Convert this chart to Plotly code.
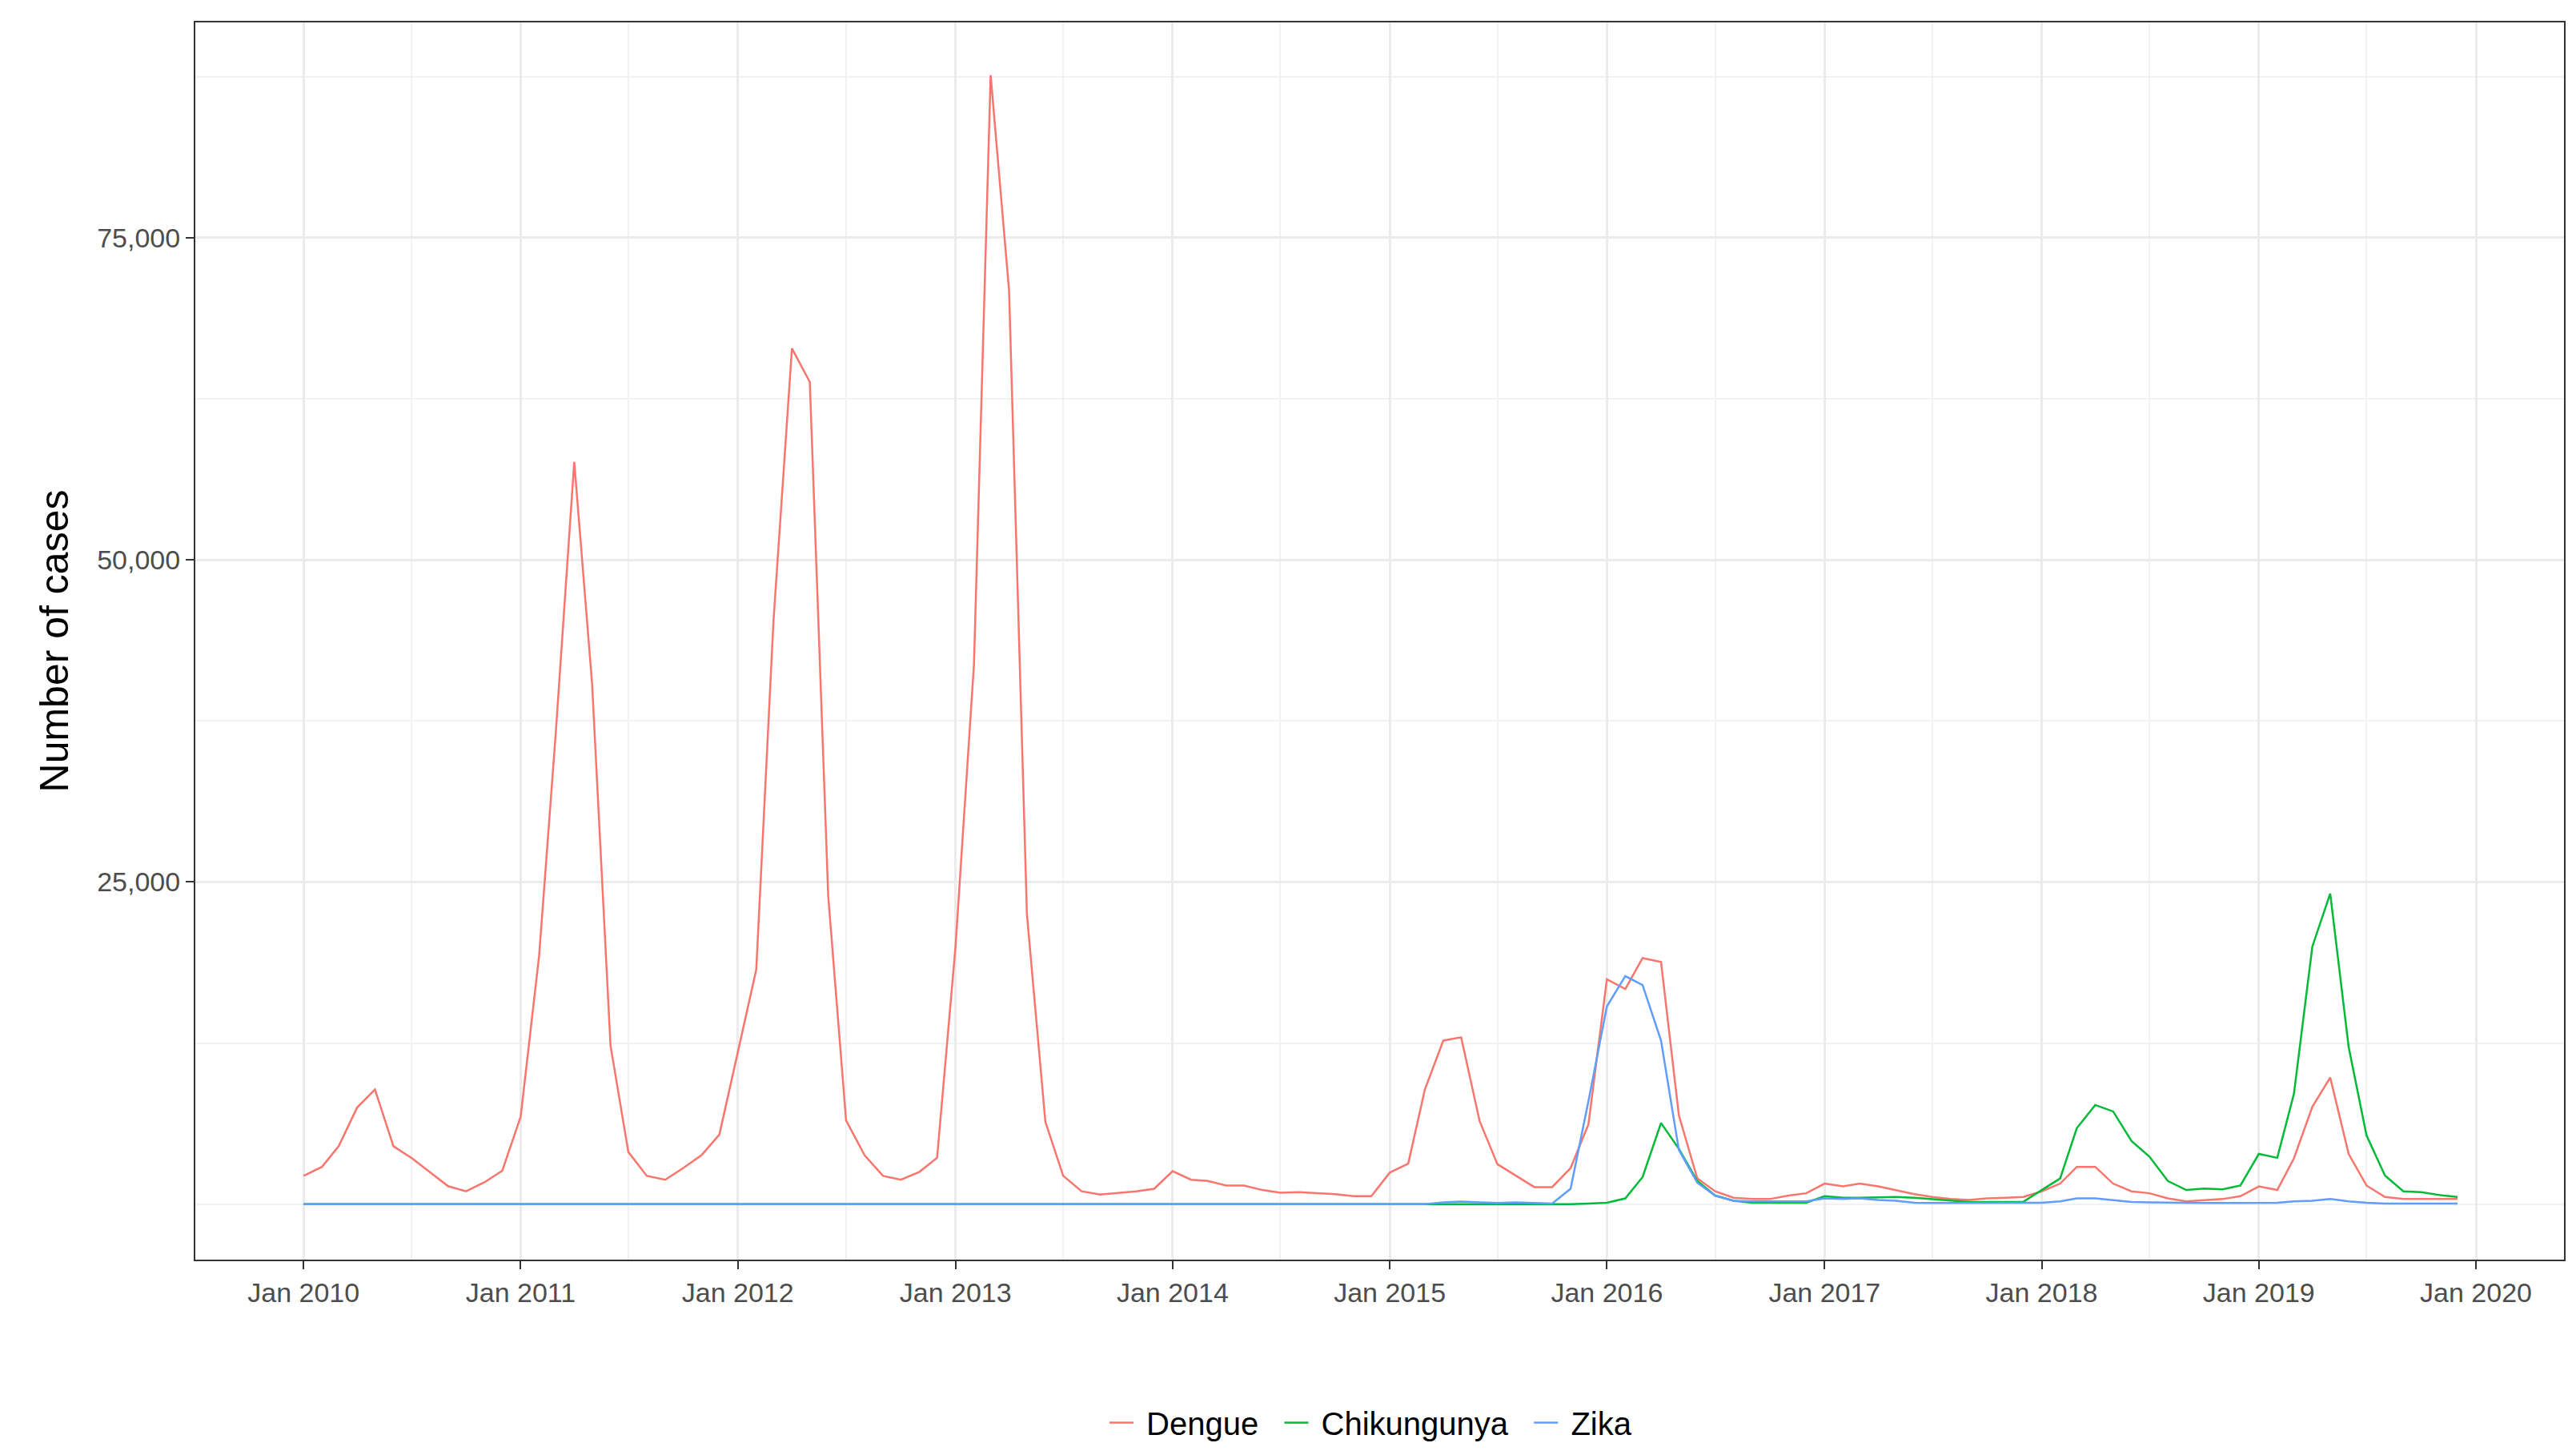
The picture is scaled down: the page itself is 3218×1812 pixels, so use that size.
import pandas as pd
import plotly.graph_objects as go

dates = pd.date_range("2010-01-01", periods=120, freq="MS")

dengue = [2200, 2900, 4500, 7500, 8900, 4500, 3600, 2500, 1400, 1000, 1700, 2600,
          6800, 19300, 36600, 57600, 40400, 12300, 4050, 2200, 1900, 2800, 3800, 5400,
          11700, 18200, 45300, 66400, 63800, 23900, 6500, 3800, 2200, 1900, 2500, 3600,
          20000, 41900, 87600, 70900, 22500, 6400, 2200, 1000, 750, 870, 1000, 1200,
          2560, 1900, 1800, 1450, 1450, 1100, 890, 930, 850, 780, 620, 620,
          2450, 3150, 8900, 12700, 12950, 6450, 3100, 2200, 1330, 1330, 2800, 6200,
          17450, 16700, 19100, 18800, 6900, 2000, 1000, 500, 400, 400, 670, 850,
          1600, 1380, 1600, 1380, 1100, 780, 560, 400, 330, 450, 500, 560,
          1000, 1600, 2900, 2900, 1600, 1000, 850, 450, 220, 330, 400, 620,
          1380, 1100, 3560, 7560, 9830, 3900, 1450, 560, 400, 400, 400, 400]

chik = [0] * 60 + [
          0, 0, 0, 0, 0, 0, 0, 0, 0, 0, 0, 50,
          110, 450, 2100, 6300, 4300, 1800, 670, 270, 110, 110, 110, 110,
          620, 500, 500, 530, 560, 500, 400, 270, 180, 180, 180, 180,
          1100, 2000, 5900, 7700, 7200, 4900, 3700, 1800, 1100, 1220, 1160, 1450,
          3900, 3600, 8570, 20000, 24100, 12200, 5340, 2220, 1000, 930, 710, 560]

zika = [0] * 60 + [
          0, 0, 0, 150, 200, 150, 100, 150, 100, 50, 1200, 8000,
          15350, 17700, 17000, 12700, 4200, 1670, 670, 270, 220, 220, 220, 220,
          450, 400, 450, 330, 270, 110, 100, 100, 100, 100, 100, 100,
          110, 220, 450, 450, 330, 180, 150, 120, 100, 100, 100, 100,
          110, 110, 220, 270, 400, 220, 110, 50, 50, 50, 50, 50]

series = [("Dengue", dengue, "#F8766D"), ("Chikungunya", chik, "#00BA38"), ("Zika", zika, "#619CFF")]

fig = go.Figure()
for name, vals, col in series:
    fig.add_trace(go.Scatter(x=dates, y=vals, mode="lines", name=" " + name + "  ",
                             line=dict(color=col, width=2.5)))

fig.update_layout(
    width=3218, height=1812, paper_bgcolor="white", plot_bgcolor="white",
    margin=dict(l=236, r=23, t=20, b=246),
    font=dict(family="Liberation Sans, Arial, sans-serif", size=34, color="#4d4d4d"),
    legend=dict(orientation="h", x=0.5, xanchor="center", y=-0.11, yanchor="top",
                font=dict(size=40, color="black"), tracegroupgap=0),
)
fig.update_xaxes(
    range=["2009-07-03", "2020-05-28"], tickformat="%b %Y", dtick="M12", tick0="2010-01-01",
    showgrid=True, gridcolor="#ebebeb", gridwidth=2.5,
    minor=dict(dtick="M6", tick0="2010-07-01", showgrid=True, gridcolor="#f2f2f2", gridwidth=1.5),
    ticks="outside", ticklen=10, tickwidth=2, tickcolor="#333333",
    showline=True, linecolor="#333333", linewidth=2, mirror=True, zeroline=False,
)
fig.update_yaxes(
    range=[-4300, 91700], tickvals=[25000, 50000, 75000], tickformat=",",
    showgrid=True, gridcolor="#ebebeb", gridwidth=2.5,
    minor=dict(tickvals=[0, 12500, 37500, 62500, 87500], showgrid=True, gridcolor="#f2f2f2", gridwidth=1.5),
    ticks="outside", ticklen=10, tickwidth=2, tickcolor="#333333",
    showline=True, linecolor="#333333", linewidth=2, mirror=True, zeroline=False,
    title=dict(text="Number of cases", font=dict(size=50, color="black"), standoff=20),
)
fig.write_html("out.html")
